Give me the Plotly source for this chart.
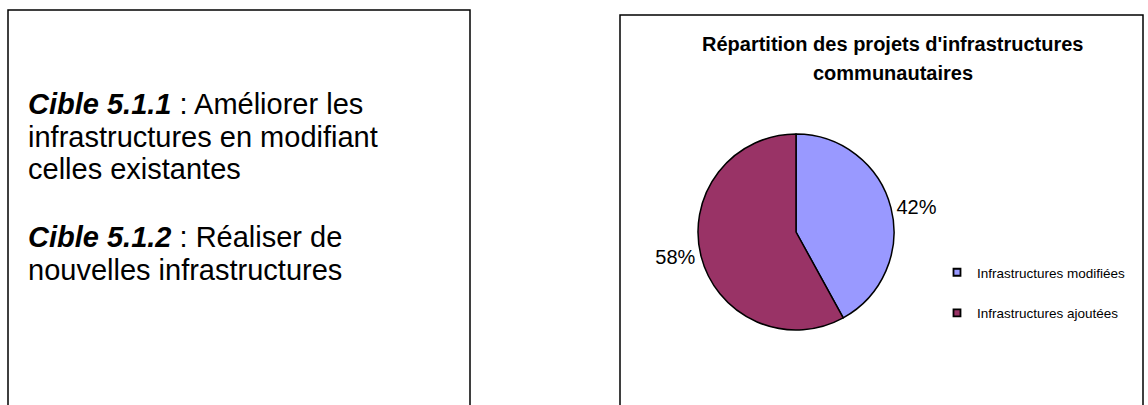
import plotly.graph_objects as go

# ---- data ----
categories = ["Infrastructures modifiées", "Infrastructures ajoutées"]
values = [42, 58]
colors = ["#9999FF", "#993366"]
title_lines = ["Répartition des projets d'infrastructures", "communautaires"]
title_line_y = [44.5, 73]
left_lines = [
    "<b><i>Cible 5.1.1</i></b> : Améliorer les",
    "infrastructures en modifiant",
    "celles existantes",
    "<b><i>Cible 5.1.2</i></b> : Réaliser de",
    "nouvelles infrastructures",
]
left_line_y = [104, 137, 169, 237, 270]

W, H = 1148, 405
FONT = "Liberation Sans, Arial, sans-serif"

fig = go.Figure()

# pie
cx, cy, r = 796, 232, 98
fig.add_trace(go.Pie(
    labels=categories, values=values, sort=False, direction="clockwise", rotation=0,
    marker=dict(colors=colors, line=dict(color="black", width=1.5)),
    textinfo="percent", textposition="outside",
    texttemplate="%{percent:.0%}",
    textfont=dict(family=FONT, size=20, color="black"),
    domain=dict(x=[(cx - r) / W, (cx + r) / W], y=[(H - cy - r) / H, (H - cy + r) / H]),
    showlegend=False, hoverinfo="label+percent",
))

# legend entries
for cat, col in zip(categories, colors):
    fig.add_trace(go.Scatter(
        x=[None], y=[None], mode="markers", name=cat, legendgroup=cat,
        marker=dict(symbol="square", size=7, color=col, line=dict(color="black", width=1.8)),
    ))

shapes = [
    dict(type="rect", xref="paper", yref="paper", x0=8 / W, x1=470 / W, y0=-0.1, y1=1 - 10 / H,
         line=dict(color="black", width=1.5), fillcolor="rgba(0,0,0,0)"),
    dict(type="rect", xref="paper", yref="paper", x0=620 / W, x1=1143 / W, y0=-0.1, y1=1 - 15 / H,
         line=dict(color="black", width=1.5), fillcolor="rgba(0,0,0,0)"),
]

annotations = []
for txt, y in zip(left_lines, left_line_y):
    annotations.append(dict(text=txt, xref="paper", yref="paper", x=26 / W, y=1 - y / H,
                            xanchor="left", yanchor="middle", showarrow=False,
                            font=dict(family=FONT, size=29, color="black")))
for txt, y in zip(title_lines, title_line_y):
    annotations.append(dict(text="<b>" + txt + "</b>", xref="paper", yref="paper", x=893 / W, y=1 - y / H,
                            xanchor="center", yanchor="middle", showarrow=False,
                            font=dict(family=FONT, size=20, color="black")))

fig.update_layout(
    width=W, height=H, margin=dict(l=0, r=0, t=0, b=0),
    paper_bgcolor="white", plot_bgcolor="white",
    xaxis=dict(visible=False), yaxis=dict(visible=False),
    shapes=shapes, annotations=annotations,
    showlegend=True,
    legend=dict(x=937 / W, y=1 - 257 / H, xanchor="left", yanchor="top",
                font=dict(family=FONT, size=13.5, color="black"),
                tracegroupgap=20, bgcolor="rgba(0,0,0,0)", itemwidth=30),
)

fig.write_html("out.html")
